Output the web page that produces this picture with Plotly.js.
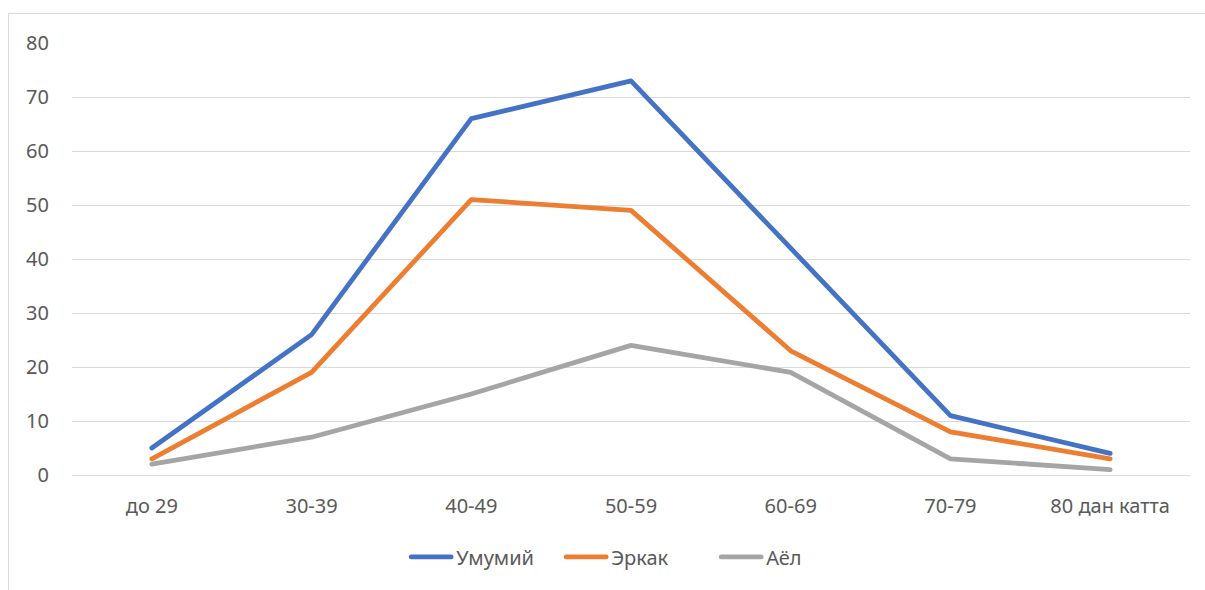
<!DOCTYPE html>
<html>
<head>
<meta charset="utf-8">
<script src="https://cdn.plot.ly/plotly-3.0.1.min.js"></script>
<style>
html,body{margin:0;padding:0;background:#fff;}
#frame{position:absolute;left:8px;top:13px;width:1210px;height:600px;border:1px solid #d9d9d9;box-sizing:border-box;}
#chart{position:absolute;left:0;top:0;width:1205px;height:590px;}
.scatterlayer .js-line, .legendlines path{stroke-linecap:round;stroke-linejoin:round;}
</style>
</head>
<body>
<div id="frame"></div>
<div id="chart"></div>
<script>
const categories = ["до 29", "30-39", "40-49", "50-59", "60-69", "70-79", "80 дан катта"];
const total = [5, 26, 66, 73, 42, 11, 4];
const male = [3, 19, 51, 49, 23, 8, 3];
const female = [2, 7, 15, 24, 19, 3, 1];
const seriesNames = ["Умумий", "Эркак", "Аёл"];
const colors = ["#4472C4", "#ED7D31", "#A5A5A5"];

const series = [total, male, female];
const traces = series.map((vals, i) => ({
  x: categories,
  y: vals,
  name: seriesNames[i],
  type: "scatter",
  mode: "lines",
  line: {color: colors[i], width: 4.8},
  hoverinfo: "skip"
}));

const layout = {
  width: 1205,
  height: 590,
  paper_bgcolor: "rgba(0,0,0,0)",
  plot_bgcolor: "rgba(0,0,0,0)",
  margin: {l: 72, r: 15, t: 43, b: 115, autoexpand: false},
  font: {family: "Noto Sans, Open Sans, sans-serif", size: 20, color: "#595959"},
  showlegend: true,
  legend: {
    orientation: "h",
    x: 0.53, xanchor: "center", xref: "container",
    y: 0.056, yanchor: "middle", yref: "container",
    font: {size: 20, color: "#595959"},
    entrywidth: 100,
    itemwidth: 40
  },
  xaxis: {
    type: "category",
    range: [-0.5, 6.5],
    showgrid: false,
    zeroline: false,
    showline: false,
    ticks: "",
    ticklabelstandoff: 17,
    tickfont: {size: 20, color: "#595959"},
    fixedrange: true
  },
  yaxis: {
    range: [0, 80],
    dtick: 10,
    showgrid: true,
    gridcolor: "#d9d9d9",
    gridwidth: 1,
    zeroline: true,
    zerolinecolor: "#d9d9d9",
    zerolinewidth: 1,
    showline: false,
    ticks: "",
    ticklabelstandoff: 22,
    tickfont: {size: 20, color: "#595959"},
    fixedrange: true
  }
};

Plotly.newPlot("chart", traces, layout, {displayModeBar: false, staticPlot: true});
</script>
</body>
</html>
